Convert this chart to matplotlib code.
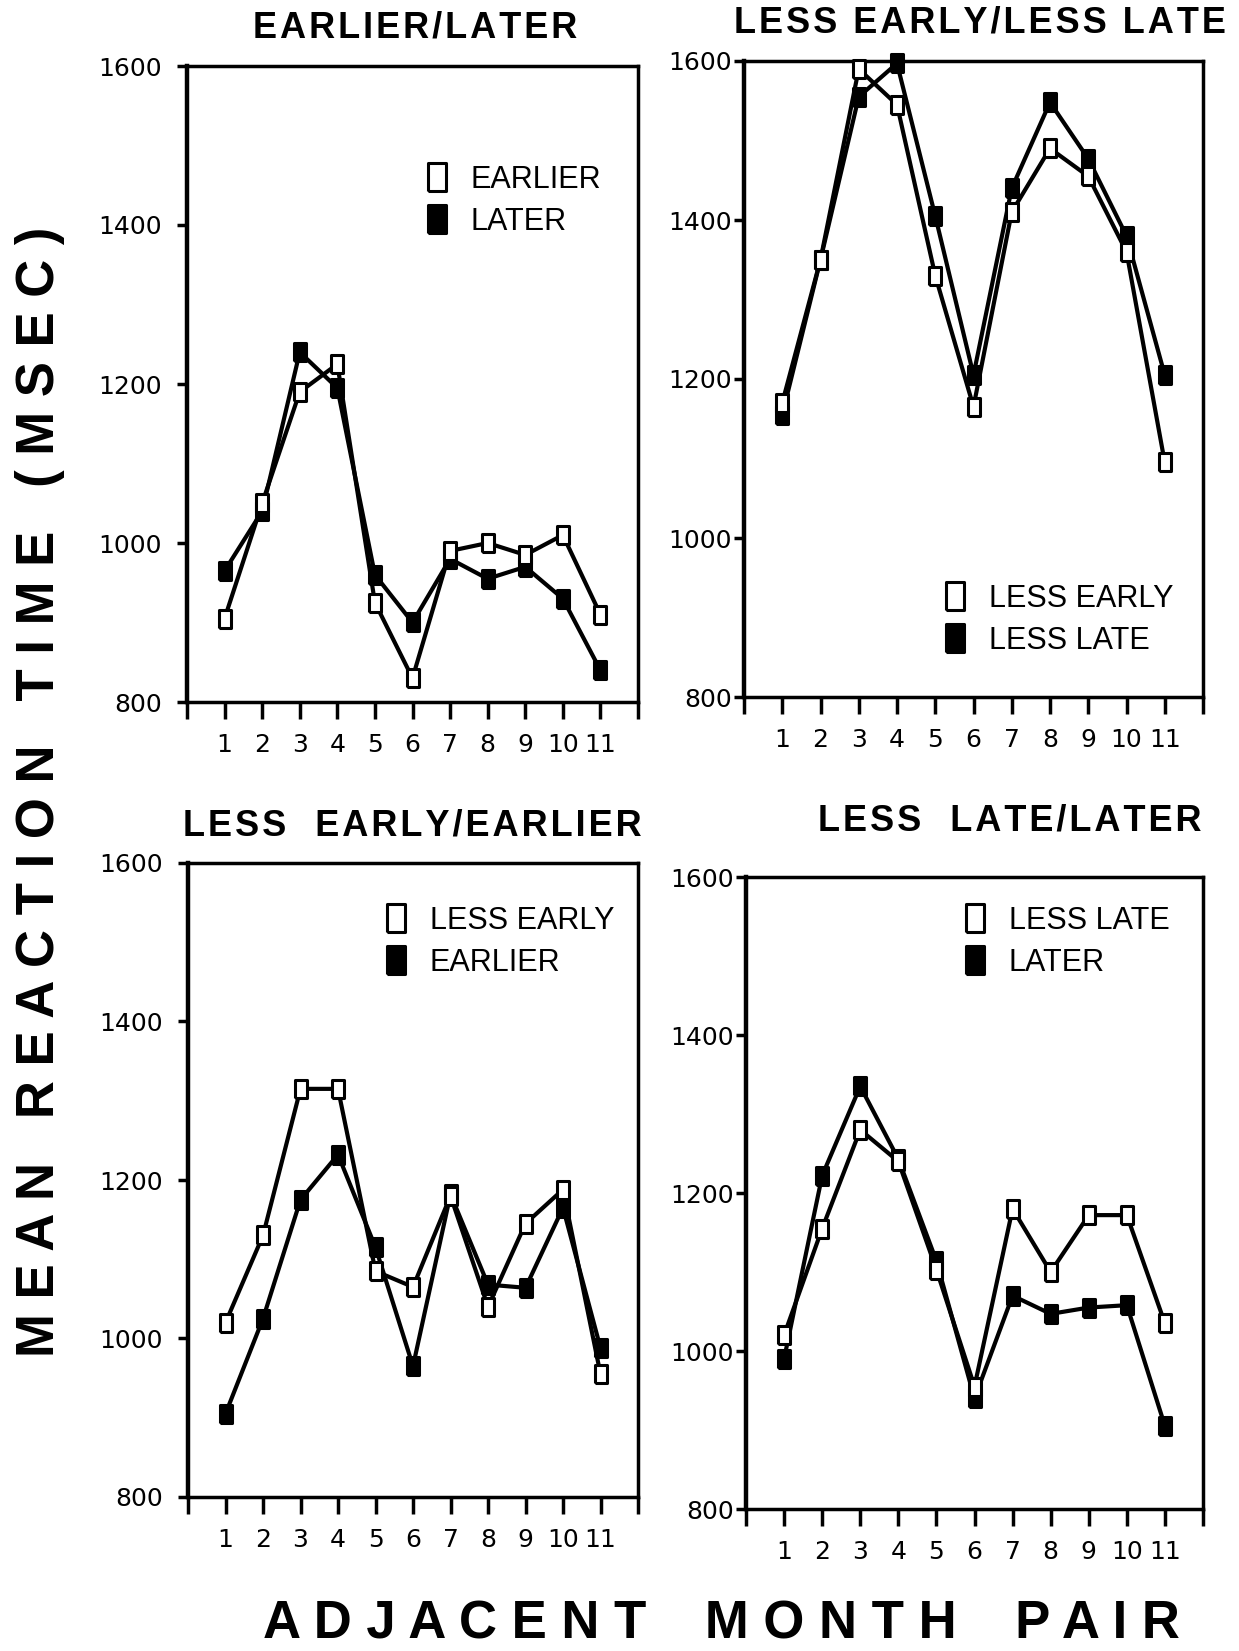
import numpy as np
import matplotlib
matplotlib.use('Agg')
from matplotlib import pyplot
from matplotlib.lines import Line2D

W, H, DPI = 1239, 1651, 100
pyplot.rcParams.update({'font.family': ['DejaVu Sans'],
                        'axes.linewidth': 2.5})

pairs = np.arange(1, 12)
xtick_labels = [str(i) for i in pairs]
yticks = [800, 1000, 1200, 1400, 1600]

# EARLIER/LATER
el_earlier = [905, 1050, 1190, 1225, 925, 830, 990, 1000, 985, 1010, 910]
el_later   = [965, 1040, 1240, 1195, 960, 900, 980, 955, 970, 930, 840]
# LESS EARLY/LESS LATE
ll_less_early = [1170, 1350, 1590, 1545, 1330, 1165, 1410, 1490, 1455, 1360, 1095]
ll_less_late  = [1155, 1350, 1555, 1597, 1405, 1205, 1440, 1548, 1477, 1380, 1205]
# LESS EARLY/EARLIER
le_less_early = [1020, 1130, 1315, 1315, 1085, 1065, 1180, 1040, 1145, 1188, 955]
le_earlier    = [905, 1025, 1175, 1232, 1115, 965, 1182, 1068, 1064, 1165, 988]
# LESS LATE/LATER
lt_less_late = [1020, 1155, 1280, 1240, 1103, 955, 1180, 1100, 1172, 1172, 1035]
lt_later     = [990, 1222, 1335, 1243, 1114, 940, 1070, 1047, 1055, 1058, 905]

# tall rectangle used as the plotting symbol
box = [(-0.68, -1), (0.68, -1), (0.68, 1), (-0.68, 1), (-0.68, -1)]

def px_rect(x0, x1, y0, y1):
    return [x0/W, 1 - y1/H, (x1 - x0)/W, (y1 - y0)/H]

def spaced(s, sep='\u200a'):
    return sep.join(s)

# title, title centre (px), axes box (px), open series, filled series,
# legend labels, legend marker centre x / row midpoint (px), left-side labels
panels = [
    ('EARLIER/LATER', (415, 28), (187, 638, 66, 702),
     el_earlier, el_later, ('EARLIER', 'LATER'), (437, 201), True),
    ('LESS EARLY/LESS LATE', (980, 23), (744, 1203, 61, 697),
     ll_less_early, ll_less_late, ('LESS EARLY', 'LESS LATE'), (955, 620), False),
    ('LESS  EARLY/EARLIER', (412, 826), (188, 638, 863, 1497),
     le_less_early, le_earlier, ('LESS EARLY', 'EARLIER'), (396, 942), True),
    ('LESS  LATE/LATER', (1010, 821), (746, 1203, 877, 1509),
     lt_less_late, lt_later, ('LESS LATE', 'LATER'), (975, 942), False),
]

fig = pyplot.figure(figsize=(W/DPI, H/DPI), dpi=DPI)

for title, tpos, box_px, y_open, y_fill, labels, lpos, left_side in panels:
    ax = fig.add_axes(px_rect(*box_px))
    for y, face in ((y_fill, 'k'), (y_open, 'white')):
        ax.plot(pairs, y, color='k', lw=3.0, marker=box, ms=13,
                mfc=face, mec='k', mew=2.2, clip_on=False, zorder=3)
    ax.set_xlim(0, 12)
    ax.set_ylim(800, 1600)
    ax.set_xticks(np.arange(13))
    ax.set_xticklabels([''] + xtick_labels + [''])
    ax.set_yticks(yticks)
    ax.set_yticklabels([str(v) for v in yticks])
    ax.tick_params(axis='x', direction='out', length=12, width=2.5,
                   pad=10, labelsize=18)
    ax.tick_params(axis='y', direction='out', length=7, width=2.5,
                   pad=11 if left_side else 1.5, labelsize=18)
    for sp in ax.spines.values():
        sp.set_linewidth(2.5)
    ax.spines['left'].set_linewidth(3.2)

    fig.text(tpos[0]/W, 1 - tpos[1]/H, spaced(title), ha='center', va='center',
             family=['Liberation Sans', 'DejaVu Sans'], weight='bold', size=26)

    handles = [Line2D([], [], ls='none', marker=box, ms=20, mfc=face, mec='k', mew=2.2)
               for face in ('white', 'k')]
    fs_px = 22*DPI/72
    ax.legend(handles, labels, loc='center left',
              bbox_to_anchor=((lpos[0] - 0.4*fs_px)/W, 1 - lpos[1]/H),
              bbox_transform=fig.transFigure, frameon=False,
              handlelength=0.8, handletextpad=0.7, labelspacing=0.4,
              borderpad=0, borderaxespad=0,
              prop={'family': 'Liberation Sans', 'size': 22})

ylab = '   '.join(' '.join(w) for w in 'MEAN REACTION TIME (MSEC)'.split())
fig.text(40/W, 1 - 792/H, ylab, rotation=90, ha='center', va='center',
         family='Liberation Sans', weight='bold', size=38)
xlab = '    '.join(' '.join(w) for w in 'ADJACENT MONTH PAIR'.split())
fig.text(721/W, 1 - 1624/H, xlab, ha='center', va='center',
         family='Liberation Sans', weight='bold', size=38)

fig.savefig('out.png', dpi=DPI, facecolor='white')
